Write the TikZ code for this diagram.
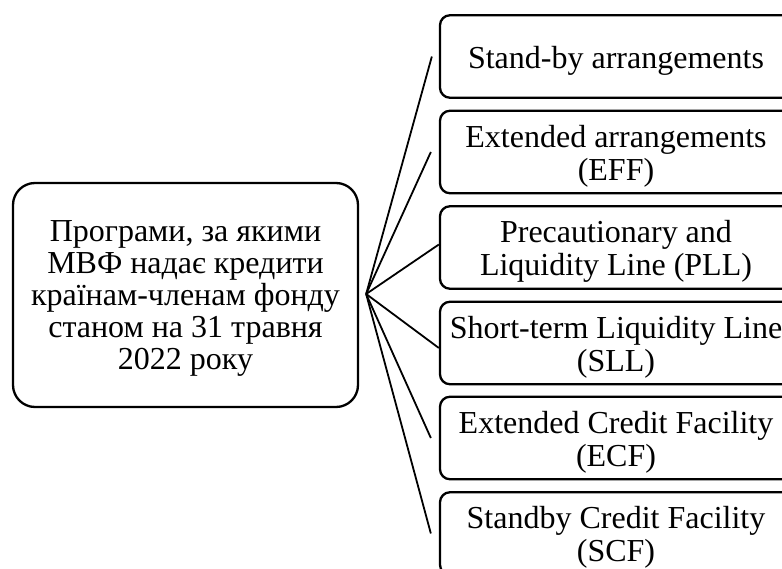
\documentclass[tikz,border=0pt]{standalone}
\usepackage{fontspec}
\setmainfont{Liberation Serif}
\newcommand\dnR{\rule{0pt}{30pt}}
\newcommand\dnL{\rule{0pt}{28pt}}
\begin{document}
\begin{tikzpicture}[x=1pt,y=-1pt,
  box/.style={draw, line width=2.3pt, rounded corners=10pt, minimum width=352pt,
    minimum height=82.5pt, align=center, inner sep=0pt,
    font=\fontsize{32}{33}\selectfont},
  mainbox/.style={draw, line width=2.3pt, rounded corners=22pt, minimum width=345pt,
    minimum height=224pt, align=center, inner sep=0pt,
    font=\fontsize{32}{32}\selectfont},
  link/.style={line width=1.8pt}]
\useasboundingbox (0,0) rectangle (782,569);
\clip (0,0) rectangle (782,569);
\node[mainbox] (L) at (185.5,295) {\dnL Програми, за якими\\МВФ надає кредити\\країнам-членам фонду\\станом на 31 травня\\2022 року};
\node[box] (b1) at (616,56.5) {\dnR Stand-by arrangements};
\node[box] (b2) at (616,152) {\dnR Extended arrangements\\(EFF)};
\node[box] (b3) at (616,247.5) {\dnR Precautionary and\\Liquidity Line (PLL)};
\node[box] (b4) at (616,343) {\dnR Short-term Liquidity Line\\(SLL)};
\node[box] (b5) at (616,438) {\dnR Extended Credit Facility\\(ECF)};
\node[box] (b6) at (616,533.5) {\dnR Standby Credit Facility\\(SCF)};
\coordinate (hub) at ([xshift=7pt,yshift=1pt]L.east);
\coordinate (e1) at ([xshift=-7pt]b1.west);
\coordinate (e2) at ([xshift=-8pt]b2.west);
\coordinate (e3) at ([yshift=3pt]b3.west);
\coordinate (e4) at ([yshift=-5pt]b4.west);
\coordinate (e5) at ([xshift=-8pt]b5.west);
\coordinate (e6) at ([xshift=-8pt]b6.west);
\foreach \e in {e1,e2,e3,e4,e5,e6}
  \draw[link] (hub) -- (\e);
\end{tikzpicture}
\end{document}
